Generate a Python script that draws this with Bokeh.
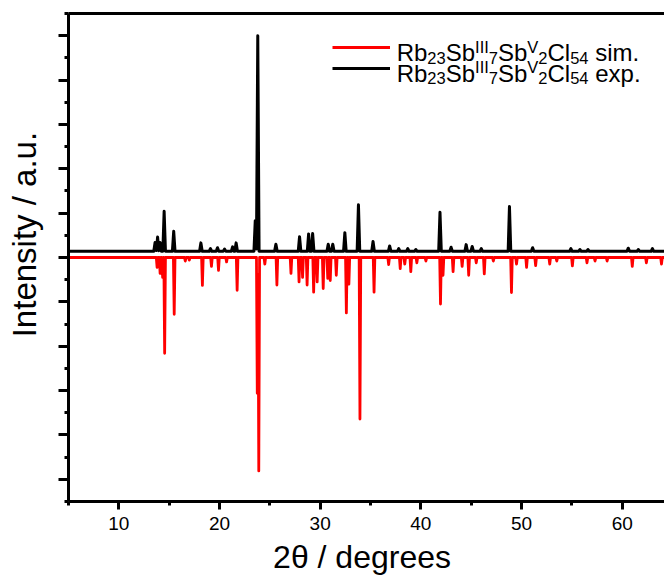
import numpy as np
from bokeh.plotting import figure
from bokeh.models import FixedTicker, LinearAxis, Label, Legend, LegendItem, ColumnDataSource
from bokeh.embed import file_html
from bokeh.resources import INLINE

# ---------------- data ----------------
# simulated pattern: peak positions (2theta, deg) and intensities (drawn downward)
sim_pos = [13.8, 14.1, 14.35, 14.55, 15.5, 16.6, 17.0, 18.3, 19.2, 19.9, 20.7, 21.75,
           23.75, 23.9, 24.5, 25.7, 27.1, 27.9, 28.25, 28.7, 29.35, 29.7, 30.3, 30.75,
           31.0, 31.6, 32.6, 32.85, 33.95, 35.35, 36.8, 37.95, 38.4, 39.0, 39.6, 40.5,
           41.95, 42.2, 43.2, 44.1, 44.75, 45.5, 46.3, 47.2, 49.0, 49.5, 50.5, 51.4,
           52.8, 53.5, 55.05, 56.5, 57.3, 58.5, 61.0, 62.4, 63.9]
sim_int = [-0.22, -0.36, -0.45, -2.16, -1.28, -0.08, -0.06, -0.63, -0.2, -0.29, -0.1, -0.74,
           -3.06, -4.81, -0.15, -0.62, -0.36, -0.55, -0.45, -0.62, -0.78, -0.55, -0.7, -0.47,
           -0.52, -0.4, -1.25, -0.6, -3.64, -0.78, -0.16, -0.25, -0.15, -0.32, -0.12, -0.08,
           -1.05, -0.4, -0.32, -0.2, -0.4, -0.12, -0.37, -0.08, -0.79, -0.15, -0.22, -0.18,
           -0.15, -0.08, -0.19, -0.12, -0.08, -0.08, -0.2, -0.12, -0.15]
sim_baseline = 0.0

# experimental pattern: peak positions and heights above its baseline
exp_pos = [13.6, 13.85, 14.1, 14.5, 15.45, 18.15, 19.1, 19.8, 20.5, 21.3, 21.65, 23.55,
           23.8, 25.6, 27.95, 28.85, 29.25, 30.8, 31.25, 32.45, 33.8, 35.25, 36.9, 37.8,
           38.7, 39.5, 41.9, 43.0, 44.5, 45.1, 46.0, 48.8, 51.1, 54.9, 55.8, 56.6,
           60.6, 61.6, 63.0]
exp_int = [0.2, 0.32, 0.2, 0.9, 0.45, 0.19, 0.06, 0.08, 0.05, 0.1, 0.19, 0.69,
           4.86, 0.16, 0.33, 0.39, 0.4, 0.16, 0.16, 0.42, 1.05, 0.22, 0.12, 0.06,
           0.06, 0.04, 0.88, 0.09, 0.15, 0.11, 0.06, 1.01, 0.08, 0.06, 0.04, 0.04,
           0.07, 0.04, 0.06]
exp_baseline = 0.14

x_ticks = [10, 20, 30, 40, 50, 60]
x_minor = [5, 15, 25, 35, 45, 55, 65]
y_ticks = [-5, -4, -3, -2, -1, 0, 1, 2, 3, 4, 5]
y_minor = [-5.5, -4.5, -3.5, -2.5, -1.5, -0.5, 0.5, 1.5, 2.5, 3.5, 4.5, 5.5]

series = ["sim.", "exp."]
formula = [("Rb", "main"), ("23", "sub"), ("Sb", "main"), ("III", "sup"), ("7", "sub"),
           ("Sb", "main"), ("V", "sup"), ("2", "sub"), ("Cl", "main"), ("54", "sub")]

# ---------------- profiles ----------------
grid = np.arange(5.0, 64.2001, 0.01)


def profile(pos, amp, hw, base):
    y = np.zeros_like(grid)
    for p0, a in zip(pos, amp):
        tri = a * np.clip(1.0 - np.abs(grid - p0) / hw, 0.0, None)
        y = np.maximum(y, tri) if a > 0 else np.minimum(y, tri)
    return y + base


src = ColumnDataSource(dict(x=grid,
                            sim=profile(sim_pos, sim_int, 0.08, sim_baseline),
                            exp=profile(exp_pos, exp_int, 0.13, exp_baseline)))

FONT = "Liberation Sans"
NB = "\u00a0"

p = figure(width=664, height=581, x_range=(5, 64.2), y_range=(-5.5, 5.5),
           output_backend="svg", toolbar_location=None,
           min_border_left=68, min_border_right=0, min_border_top=13, min_border_bottom=80)
p.outline_line_color = None
p.xgrid.visible = False
p.ygrid.visible = False
p.background_fill_color = "white"
p.border_fill_color = "white"

r_sim = p.line("x", "sim", source=src, line_color="#ff0000", line_width=2.8, line_join="round")
r_exp = p.line("x", "exp", source=src, line_color="#000000", line_width=3.0, line_join="round")

# x axis
xa = p.xaxis[0]
xa.ticker = FixedTicker(ticks=x_ticks, minor_ticks=x_minor)
xa.axis_line_width = 3
xa.major_tick_line_width = 3
xa.minor_tick_line_width = 3
xa.major_tick_out = 8
xa.major_tick_in = 0
xa.minor_tick_out = 4
xa.minor_tick_in = 0
xa.major_label_text_font = FONT
xa.major_label_text_font_size = "19px"
xa.major_label_text_color = "black"
xa.major_label_standoff = 7
xa.axis_label = "2θ / degrees" + NB
xa.axis_label_text_font = FONT
xa.axis_label_text_font_size = "32px"
xa.axis_label_text_font_style = "normal"
xa.axis_label_text_color = "black"
xa.axis_label_standoff = 6

# y axis (no tick labels)
ya = p.yaxis[0]
ya.ticker = FixedTicker(ticks=y_ticks, minor_ticks=y_minor)
ya.axis_line_width = 3
ya.major_tick_line_width = 3
ya.minor_tick_line_width = 3
ya.major_tick_out = 10
ya.major_tick_in = 0
ya.minor_tick_out = 4
ya.minor_tick_in = 0
ya.major_label_text_font_size = "1px"
ya.major_label_text_color = None
ya.major_label_standoff = 0
ya.axis_label = NB * 5 + "Intensity / a.u."
ya.axis_label_text_font = FONT
ya.axis_label_text_font_size = "33px"
ya.axis_label_text_font_style = "normal"
ya.axis_label_text_color = "black"
ya.axis_label_standoff = 16

# top frame line
top = LinearAxis(ticker=FixedTicker(ticks=[]), axis_line_width=3,
                 major_tick_line_color=None, minor_tick_line_color=None,
                 major_label_text_font_size="1px", major_label_text_color=None,
                 major_label_standoff=0)
p.add_layout(top, "above")

# legend keys
legend = Legend(items=[LegendItem(label=" ", renderers=[r_sim]),
                       LegendItem(label=" ", renderers=[r_exp])],
                location=(264, 424), glyph_width=58, glyph_height=18, label_height=18,
                label_width=1, spacing=3, padding=0, margin=0, border_line_color=None,
                background_fill_alpha=0, label_text_font_size="1px", label_text_color=None,
                label_standoff=0)
p.add_layout(legend)

# legend texts with sub/superscripts
W = {'R': 722, 'b': 556, 'S': 667, 'C': 722, 'l': 222, 'I': 278, 'V': 667, ' ': 278,
     's': 500, 'i': 222, 'm': 833, '.': 278, 'e': 556, 'x': 500, 'p': 556}
for d in "0123456789":
    W[d] = 556
MAIN, SMALL = 24, 16.5
SIZES = {"main": MAIN, "sub": SMALL, "sup": SMALL}
SHIFT = {"main": 0, "sub": -5, "sup": 6}
row_y = [4.62, 4.15]
for row, name in enumerate(series):
    off = 0.0
    for txt, kind in formula + [(name, "space")]:
        if kind == "space":
            off += W[' '] / 1000.0 * MAIN
            kind = "main"
        p.add_layout(Label(x=37.6, y=row_y[row], x_offset=off, y_offset=SHIFT[kind], text=txt,
                           text_align="left", text_baseline="alphabetic",
                           text_font=FONT, text_font_size=f"{SIZES[kind]}px", text_color="black"))
        off += sum(W[c] for c in txt) / 1000.0 * SIZES[kind]

open("out.html", "w").write(file_html(p, INLINE))
